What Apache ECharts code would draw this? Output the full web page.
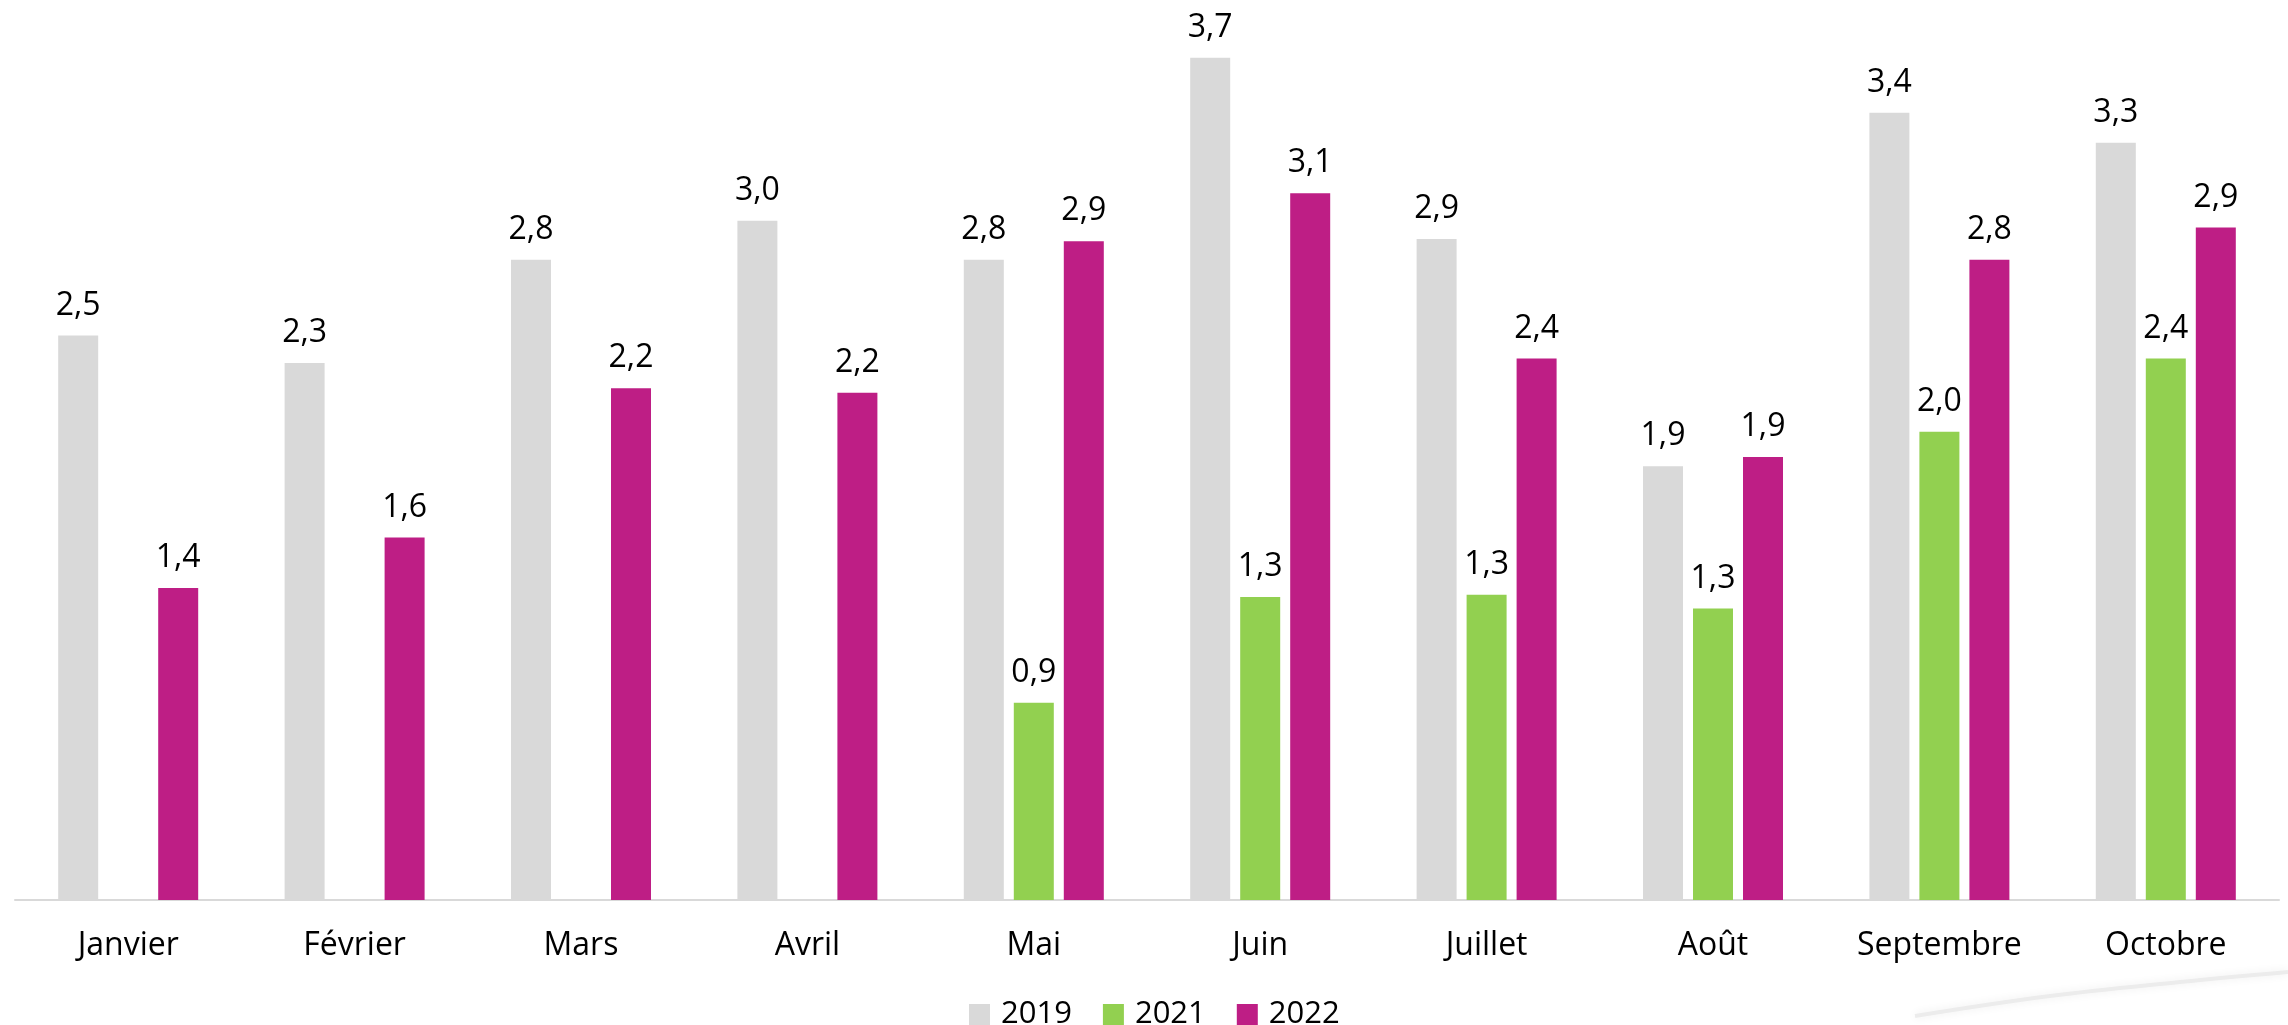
<!DOCTYPE html>
<html>
<head>
<meta charset="utf-8">
<script src="https://cdn.jsdelivr.net/npm/echarts@6/dist/echarts.min.js"></script>
<style>
  html, body { margin: 0; padding: 0; background: #fff; }
  #chart { width: 2288px; height: 1025px; }
</style>
</head>
<body>
<div id="chart"></div>
<script>
const months = ['Janvier', 'Février', 'Mars', 'Avril', 'Mai', 'Juin', 'Juillet', 'Août', 'Septembre', 'Octobre'];
const years = ['2019', '2021', '2022'];
const values2019 = [2.46, 2.34, 2.79, 2.96, 2.79, 3.67, 2.88, 1.89, 3.43, 3.30];
const values2021 = [null, null, null, null, 0.86, 1.32, 1.33, 1.27, 2.04, 2.36];
const values2022 = [1.36, 1.58, 2.23, 2.21, 2.87, 3.08, 2.36, 1.93, 2.79, 2.93];
const colors = ['#d9d9d9', '#92d050', '#be1e85'];

const FONT = '"Open Sans", sans-serif';

const chart = echarts.init(document.getElementById('chart'));

// étiquette au-dessus de chaque barre, virgule décimale
function makeSeries(name, data, color) {
  return {
    name: name,
    type: 'bar',
    data: data,
    barWidth: 40,
    barGap: '25%',
    itemStyle: { color: color },
    label: {
      show: true,
      position: 'top',
      distance: 14,
      color: '#000',
      fontFamily: FONT,
      fontSize: 32,
      formatter: p => p.value == null ? '' : p.value.toFixed(1).replace('.', ',')
    }
  };
}

const option = {
  animation: false,
  grid: { left: 15, right: 9, top: 5, bottom: 125 },
  legend: {
    data: years,
    top: 994,
    left: 964,
    itemWidth: 21,
    itemHeight: 21,
    itemGap: 31,
    icon: 'rect',
    textStyle: { fontFamily: FONT, fontSize: 31, color: '#000', padding: [0, 0, 0, 6] }
  },
  // ombre légère en bas à droite (pli de la capture)
  graphic: [{
    type: 'polyline',
    silent: true,
    shape: { points: [[1915, 1016], [2050, 996], [2180, 982], [2288, 972]], smooth: 0.4 },
    style: { stroke: '#ececec', lineWidth: 4, fill: null, shadowBlur: 8, shadowColor: 'rgba(0,0,0,0.08)' }
  }],
  xAxis: {
    type: 'category',
    data: months,
    axisLine: { lineStyle: { color: '#d9d9d9', width: 2 } },
    axisTick: { length: 12, lineStyle: { color: '#d9d9d9', width: 2 } },
    axisLabel: { color: '#000', fontFamily: FONT, fontSize: 32, margin: 30 }
  },
  yAxis: {
    type: 'value',
    min: 0,
    max: 3.9,
    show: false,
    splitLine: { show: false }
  },
  series: [
    makeSeries(years[0], values2019, colors[0]),
    makeSeries(years[1], values2021, colors[1]),
    makeSeries(years[2], values2022, colors[2])
  ]
};

chart.setOption(option);
</script>
</body>
</html>
